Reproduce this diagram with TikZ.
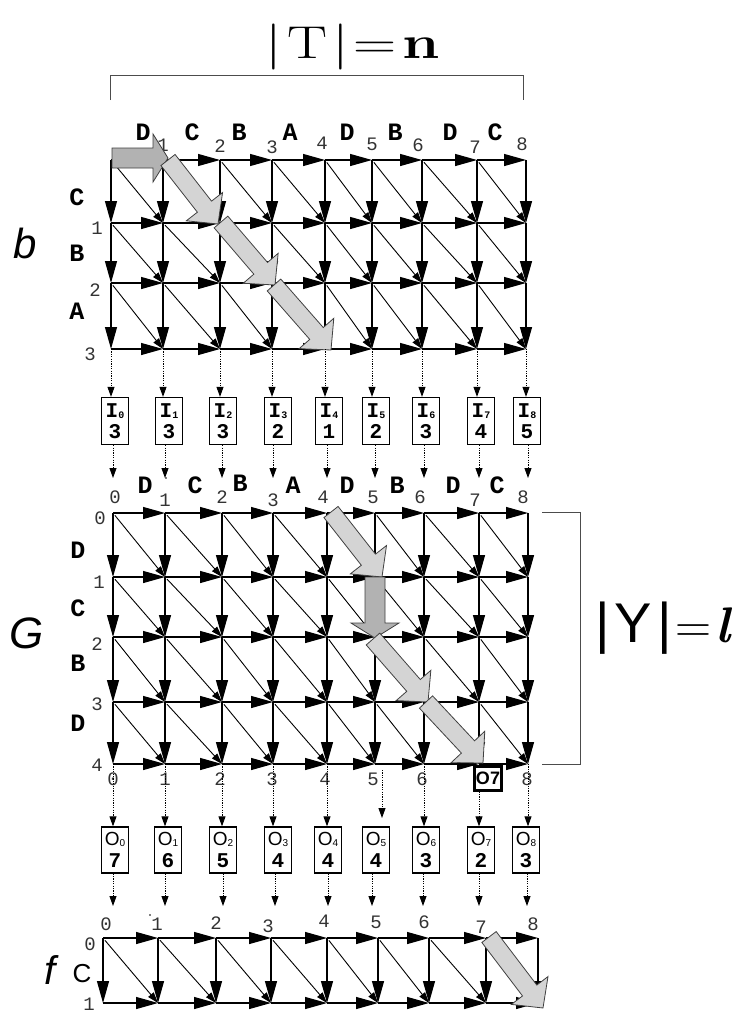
\documentclass[tikz,border=0pt]{standalone}
\usepackage{fontspec}
\usetikzlibrary{arrows.meta,calc}
\newfontfamily\cour{Liberation Mono}
\newfontfamily\helv{Liberation Sans}
\newfontfamily\lmr{Latin Modern Roman}
\newcommand\sbs[1]{\raisebox{-1pt}{\fontsize{10}{10}\selectfont #1}}
\colorlet{lightfat}{black!17}
\colorlet{darkfat}{black!30}
\newcommand\fatarrow[6]{% start, end, fill, shaft half, head half, head length
  \coordinate (fh) at ($(#2)!#6!(#1)$);
  \draw[fat, fill=#3] ($(#1)!#4!90:(#2)$) -- ($(fh)!#4!90:(#2)$) -- ($(fh)!#5!90:(#2)$) -- (#2)
    -- ($(fh)!#5!-90:(#2)$) -- ($(fh)!#4!-90:(#2)$) -- ($(#1)!#4!-90:(#2)$) -- cycle;}
\tikzset{
  hv/.style={line width=1.2pt, -{Triangle[length=22pt,width=12pt]}},
  dg/.style={line width=0.9pt, -{Triangle[length=11pt,width=7pt]}, shorten <=3pt},
  dotarr/.style={line width=0.9pt, dash pattern=on 1.2pt off 1.2pt, -{Triangle[length=10pt,width=7pt]}},
  num/.style={font=\cour\fontsize{19}{19}\selectfont, text=black!80, inner sep=0},
  sym/.style={font=\cour\bfseries\fontsize{25}{25}\selectfont, inner sep=0},
  ibox/.style={draw, line width=1.3pt, minimum width=27pt, minimum height=47pt, inner sep=0, align=center, font=\cour\bfseries\fontsize{21}{21}\selectfont},
  obox/.style={draw, line width=1.3pt, minimum width=27pt, minimum height=46pt, inner sep=0, align=center, font=\cour\bfseries\fontsize{21}{22}\selectfont},
  biglab/.style={font=\helv\itshape\fontsize{42}{42}\selectfont, inner sep=0},
  fat/.style={draw=black!75, line width=0.8pt, line join=miter},
  brk/.style={draw=black!70, line width=1pt},
}
\begin{document}
\begin{tikzpicture}[x=1pt,y=-1pt]
\useasboundingbox (0,0) rectangle (753,1012);

% ---------- coordinates ----------
\foreach \x [count=\i from 0] in {111,163,220,272,325,372,422,477,526}{
  \foreach \y [count=\j from 0] in {160,223,283,349}{\coordinate (t\i-\j) at (\x,\y);}}
\foreach \x [count=\i from 0] in {113,165,222,273,327,375,424,479,528}{
  \foreach \y [count=\j from 0] in {513,577,637,702,764}{\coordinate (m\i-\j) at (\x,\y);}}
\foreach \x [count=\i from 0] in {103,158,216,271,327,378,429,486,538}{
  \foreach \y [count=\j from 0] in {938,1003}{\coordinate (b\i-\j) at (\x,\y);}}

% ---------- top bracket ----------
\node[inner sep=0] (tlab) at (353,47) {\scalebox{1.3}[1]{\lmr\fontsize{46}{46}\selectfont |\hspace{4pt}T\hspace{4pt}|\hspace{3pt}=\hspace{5pt}\textbf{n}}};
\coordinate (br1) at (110,100); \coordinate (br2) at (523,100);
\draw[brk] (br1) -- ++(0,-25) -| (br2);

% ---------- top grid ----------
\foreach \i [evaluate=\i as \k using int(\i+1)] in {0,...,7}{
  \foreach \j in {0,...,3}{\draw[hv] (t\i-\j) -- (t\k-\j);}
  \foreach \j [evaluate=\j as \m using int(\j+1)] in {0,...,2}{\draw[dg] (t\i-\j) -- (t\k-\m);}}
\foreach \i in {0,...,8}{
  \foreach \j [evaluate=\j as \m using int(\j+1)] in {0,...,2}{\draw[hv] (t\i-\j) -- (t\i-\m);}}

% top labels
\foreach \t/\x/\y in {1/163/145,2/220/146,3/272/147,4/322/143,5/372/144,6/418/145,7/475/147,8/522/144}
  \node[num] (tn\t) at (\x,\y) {\t};
\foreach \t/\x [count=\c] in {D/143,C/192,B/239,A/290,D/347,B/395,D/450,C/495}
  \node[sym] (tc\c) at (\x,132) {\t};
\foreach \t/\x/\y [count=\c] in {C/77/197,B/77/253,A/77/311}
  \node[sym] (tr\c) at (\x,\y) {\t};
\foreach \t/\x/\y in {1/97/228,2/95/290,3/90/354}
  \node[num] (trn\t) at (\x,\y) {\t};
\node[biglab] (lb) at (25,243) {b};

% top fat arrows
\coordinate (fa0s) at (112,158); \coordinate (fa0e) at (168,158);
\coordinate (fa1s) at (168,160); \coordinate (fa1e) at (218,224);
\coordinate (fa2s) at (221,222); \coordinate (fa2e) at (275,285);
\coordinate (fa3s) at (274,285); \coordinate (fa3e) at (331,350);
\fatarrow{fa0s}{fa0e}{darkfat}{10pt}{24pt}{15pt}
\fatarrow{fa1s}{fa1e}{lightfat}{9pt}{23pt}{22pt}
\fatarrow{fa2s}{fa2e}{lightfat}{9pt}{23pt}{22pt}
\fatarrow{fa3s}{fa3e}{lightfat}{9pt}{23pt}{22pt}

% ---------- I boxes ----------
\foreach \x/\v [count=\c from 0] in {115/3,169/3,223/3,278/2,329/1,376/2,426/3,481/4,527/5}
  \node[ibox] (i\c) at (\x,421) {I\sbs{\c}\\\v};
\foreach \i in {0,...,8}{
  \draw[dotarr] (t\i-3) -- (t\i-3 |- i\i.north);
  \coordinate (ia\i) at (m\i-0 |- 0,478);
  \draw[dotarr] (ia\i |- i\i.south) -- (ia\i);}

% ---------- middle grid ----------
\node[draw, line width=3pt, minimum width=27pt, minimum height=24pt, inner sep=0,
      font=\helv\bfseries\fontsize{18}{18}\selectfont, fill=white] (o7box) at (488,778) {O7};
\foreach \i [evaluate=\i as \k using int(\i+1)] in {0,...,7}{
  \foreach \j in {0,...,4}{\draw[hv] (m\i-\j) -- (m\k-\j);}
  \foreach \j [evaluate=\j as \m using int(\j+1)] in {0,...,3}{\draw[dg] (m\i-\j) -- (m\k-\m);}}
\foreach \i in {0,...,8}{
  \foreach \j [evaluate=\j as \m using int(\j+1)] in {0,...,3}{\draw[hv] (m\i-\j) -- (m\i-\m);}}

\foreach \t/\x/\y in {0/115/497,1/165/500,2/222/497,3/273/500,4/323/497,5/373/497,6/420/497,7/475/500,8/523/497}
  \node[num] (mn\t) at (\x,\y) {\t};
\foreach \t/\x/\y [count=\c] in {D/145/485,C/195/485,B/240/483,A/293/485,D/347/485,B/397/485,D/453/485,C/497/485}
  \node[sym] (mc\c) at (\x,\y) {\t};
\foreach \t/\y [count=\c] in {D/550,C/608,B/663,D/723}
  \node[sym] (mr\c) at (78,\y) {\t};
\foreach \t/\x/\y in {0/100/518,1/99/582,2/97/644,3/97/704,4/97/765}
  \node[num] (mrn\t) at (\x,\y) {\t};
\foreach \t/\x in {0/113,1/165,2/220,3/272,4/325,5/373,6/422,8/527}
  \node[num] (mb\t) at (\x,779) {\t};
\node[biglab, font=\helv\itshape\fontsize{44}{44}\selectfont] (lG) at (27,633) {G};
\fill (166,478) circle (0.9pt);

% right bracket
\coordinate (rb1) at (542,512); \coordinate (rb2) at (542,764);
\draw[brk] (rb1) -- ++(38,0) |- (rb2);
\node[inner sep=0] (ylab) at (664,628) {\helv\fontsize{56}{56}\selectfont |\hspace{5pt}Y\hspace{5pt}|\hspace{4pt}{\lmr\fontsize{50}{50}\selectfont=\hspace{4pt}\textbf{\textit{l}}}};

% middle fat arrows
\coordinate (fb1s) at (331,512); \coordinate (fb1e) at (382,577);
\coordinate (fb2s) at (375,577); \coordinate (fb2e) at (375,638);
\coordinate (fb3s) at (373,639); \coordinate (fb3e) at (428,702);
\coordinate (fb4s) at (426,702); \coordinate (fb4e) at (483,763);
\fatarrow{fb1s}{fb1e}{lightfat}{9pt}{23pt}{22pt}
\fatarrow{fb2s}{fb2e}{darkfat}{10pt}{24pt}{15pt}
\fatarrow{fb3s}{fb3e}{lightfat}{9pt}{23pt}{22pt}
\fatarrow{fb4s}{fb4e}{lightfat}{9pt}{23pt}{22pt}

% ---------- O boxes ----------
\foreach \x/\v [count=\c from 0] in {115/7,168/6,223/5,278/4,328/4,376/4,426/3,481/2,526/3}
  \node[obox] (o\c) at (\x,850) {{\helv\mdseries\fontsize{19}{19}\selectfont O\sbs{\c}}\\\v};
\foreach \i in {0,1,2,3,4,6,8}{\draw[dotarr] (m\i-4) -- (m\i-4 |- o\i.north);}
\coordinate (o5a) at (382,770); \coordinate (o5b) at (382,818);
\draw[dotarr] (o5a) -- (o5b);
\draw[dotarr] (o7box.south -| m7-4) -- (m7-4 |- o7.north);
\foreach \x [count=\c from 0] in {113,165,223,275,328,372,423,479,527}{
  \coordinate (ob\c) at (\x,906);
  \draw[dotarr] (ob\c |- o\c.south) -- (ob\c);}

% ---------- bottom grid ----------
\foreach \i [evaluate=\i as \k using int(\i+1)] in {0,...,7}{
  \foreach \j in {0,1}{\draw[hv] (b\i-\j) -- (b\k-\j);}
  \draw[dg] (b\i-0) -- (b\k-1);}
\foreach \i in {0,...,8}{\draw[hv] (b\i-0) -- (b\i-1);}
\foreach \t/\x/\y in {0/106/924,1/157/924,2/216/923,3/268/926,4/324/921,5/376/922,6/424/922,7/481/927,8/533/924}
  \node[num] (bn\t) at (\x,\y) {\t};
\node[num] (bl0) at (90,944) {0};
\node[num] (bl1) at (89,1004) {1};
\node[font=\helv\fontsize{26}{26}\selectfont, inner sep=0] (bC) at (82,974) {C};
\node[biglab, font=\helv\itshape\fontsize{40}{40}\selectfont] (lf) at (50,970) {f};
\fill (150,915) circle (0.9pt);
\coordinate (fc1s) at (489,937); \coordinate (fc1e) at (543,1008);
\fatarrow{fc1s}{fc1e}{lightfat}{9pt}{23pt}{22pt}
\end{tikzpicture}
\end{document}
